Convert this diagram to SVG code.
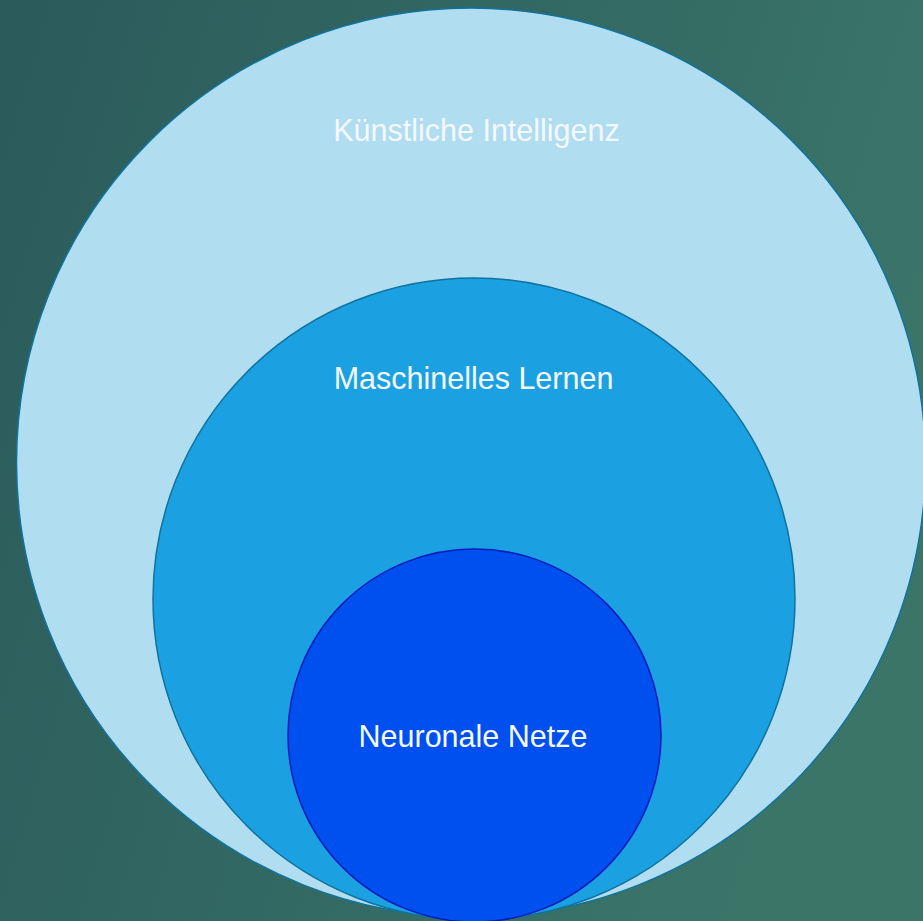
<svg xmlns="http://www.w3.org/2000/svg" width="923" height="921" viewBox="0 0 923 921">
<defs>
<linearGradient id="bg" x1="0" y1="0" x2="1" y2="0.3">
<stop offset="0" stop-color="#2b5b5b"/>
<stop offset="0.6" stop-color="#336a64"/>
<stop offset="1" stop-color="#3b7568"/>
</linearGradient>
<style>
.lbl{font-family:"Liberation Sans",Arial,Helvetica,sans-serif;font-size:30.5px;fill:#f4f9ff;text-anchor:middle}
</style>
</defs>
<rect x="0" y="0" width="923" height="921" fill="url(#bg)"/>
<g id="ki">
<circle cx="471" cy="462.5" r="454.5" fill="#b1ddf0" stroke="#10739e" stroke-width="1.5"/>
<text class="lbl" x="476.5" y="141">Künstliche Intelligenz</text>
</g>
<g id="ml">
<circle cx="474" cy="599" r="321" fill="#1ba1e2" stroke="#10739e" stroke-width="1.5"/>
<text class="lbl" x="473.5" y="389">Maschinelles Lernen</text>
</g>
<g id="nn">
<circle cx="474.5" cy="735.5" r="186.5" fill="#0050ef" stroke="#001dbc" stroke-width="1.5"/>
<text class="lbl" x="473" y="747">Neuronale Netze</text>
</g>
<g id="connectors"/>
</svg>
